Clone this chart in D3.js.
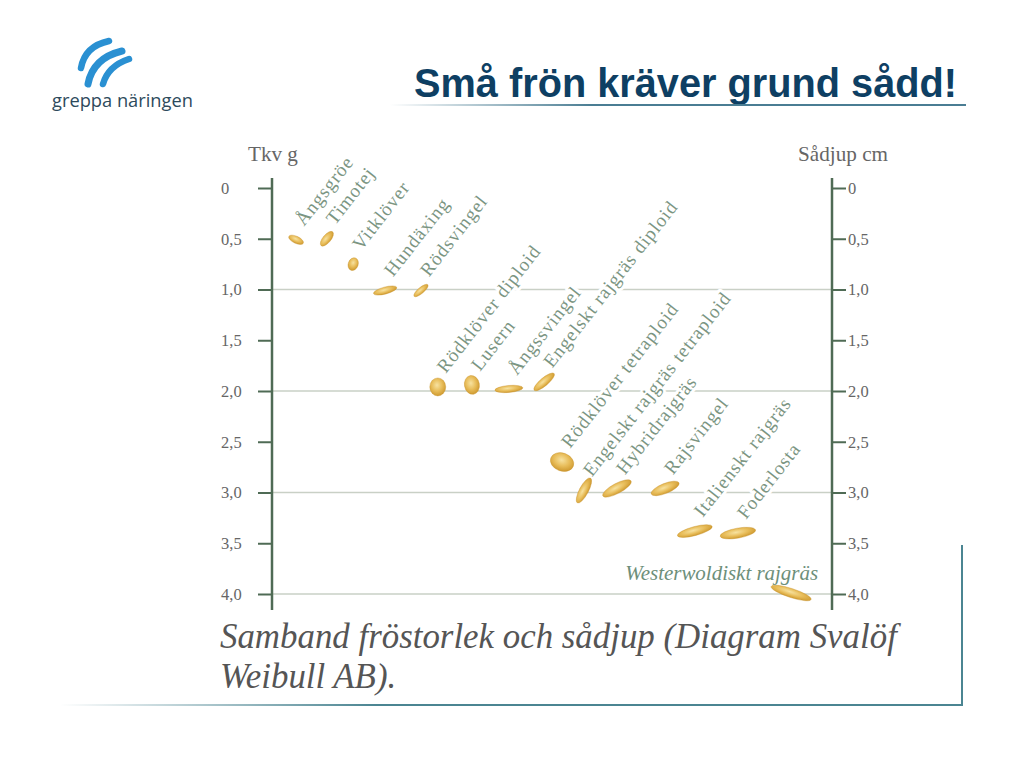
<!DOCTYPE html>
<html>
<head>
<meta charset="utf-8">
<script src="https://cdn.jsdelivr.net/npm/d3@7"></script>
<style>
  body { margin: 0; background: #fff; }
</style>
</head>
<body>
<script>
// Seed data: name, thousand-kernel weight (Tkv g) / sowing depth (cm), column along the chart
const seedNames = ["Ångsgröe", "Timotej", "Vitklöver", "Hundäxing", "Rödsvingel",
  "Rödklöver diploid", "Lusern", "Ångssvingel", "Engelskt rajgräs diploid",
  "Rödklöver tetraploid", "Engelskt rajgräs tetraploid", "Hybridrajgräs", "Rajsvingel",
  "Italienskt rajgräs", "Foderlosta", "Westerwoldiskt rajgräs"];
const seedValue = [0.51, 0.5, 0.75, 1.01, 1.01, 1.96, 1.94, 1.98, 1.91, 2.7, 2.98, 2.96, 2.96, 3.38, 3.4, 3.99];
const seedColumn = [4.3, 9.8, 14.5, 20.2, 26.6, 29.6, 35.7, 42.3, 48.6, 51.8, 55.7, 61.6, 70.2, 75.5, 83.2, 92.7];

const tickValues = [0, 0.5, 1, 1.5, 2, 2.5, 3, 3.5, 4];
const gridValues = [1, 2, 3, 4];

// seed shape look: [rx, ry, rotation]
const seedLook = {
  "Ångsgröe": [8, 3.5, 25], "Timotej": [9, 4, -50], "Vitklöver": [5, 6.5, 20],
  "Hundäxing": [12, 3.5, -15], "Rödsvingel": [9, 3, -40], "Rödklöver diploid": [8, 9, 0],
  "Lusern": [7.5, 9.5, -10], "Ångssvingel": [14, 3.5, -5], "Engelskt rajgräs diploid": [13, 4, -40],
  "Rödklöver tetraploid": [12, 9, 20], "Engelskt rajgräs tetraploid": [14, 4.5, -62],
  "Hybridrajgräs": [16, 5, -28], "Rajsvingel": [15, 5, -22], "Italienskt rajgräs": [18, 4.5, -15],
  "Foderlosta": [18, 5, -10], "Westerwoldiskt rajgräs": [21, 4.5, 18]
};

const seeds = seedNames.map((n, i) => ({ name: n, value: seedValue[i], col: seedColumn[i] }));

const width = 1024, height = 768;
const svg = d3.select('body').append('svg')
  .attr('width', width)
  .attr('height', height);

const defs = svg.append('defs');
const seedGrad = defs.append('radialGradient').attr('id', 'seedGrad')
  .attr('cx', '45%').attr('cy', '40%').attr('r', '60%');
seedGrad.append('stop').attr('offset', '0%').attr('stop-color', '#f7e2a0');
seedGrad.append('stop').attr('offset', '55%').attr('stop-color', '#e8bd5a');
seedGrad.append('stop').attr('offset', '100%').attr('stop-color', '#cf9a30');

function fadeGrad(id, color) {
  const g = defs.append('linearGradient').attr('id', id).attr('x1', '0%').attr('x2', '100%');
  g.append('stop').attr('offset', '0%').attr('stop-color', color).attr('stop-opacity', 0);
  g.append('stop').attr('offset', '35%').attr('stop-color', color).attr('stop-opacity', 1);
  g.append('stop').attr('offset', '100%').attr('stop-color', color).attr('stop-opacity', 1);
}
fadeGrad('fadeTitle', '#4a7d93');
fadeGrad('fadeFrame', '#4b8592');

const zeroGrad = defs.append('linearGradient').attr('id', 'zeroGrad').attr('x1', '0%').attr('x2', '100%');
zeroGrad.append('stop').attr('offset', '0%').attr('stop-color', '#4f7b50');
zeroGrad.append('stop').attr('offset', '70%').attr('stop-color', '#4f7d58');
zeroGrad.append('stop').attr('offset', '100%').attr('stop-color', '#4a8a8e');

// Scales
const x = d3.scaleLinear().domain([0, 100]).range([272, 832]);
const y = d3.scaleLinear().domain([0, 4]).range([188, 594]);

const fmt = d => d === 0 ? '0' : d3.format('.1f')(d).replace('.', ',');
const serif = '"Liberation Serif", "Times New Roman", serif';

// fit text to a width
function fit(sel, target) {
  const len = sel.node().getComputedTextLength();
  const fs = parseFloat(sel.attr('font-size'));
  sel.attr('font-size', fs * target / len);
}

// Logo
const logo = svg.append('g');
[["M 81 68 Q 85 46 109 41", 6.5], ["M 88 84 Q 93 58 122 51", 7], ["M 103 84 Q 108 66 129 59", 6.5]]
  .forEach(p => logo.append('path').attr('d', p[0]).attr('fill', 'none')
    .attr('stroke', '#2a90d2').attr('stroke-width', p[1]).attr('stroke-linecap', 'round'));
const logoText = logo.append('text')
  .attr('x', 52).attr('y', 107)
  .attr('font-family', '"Open Sans", "Noto Sans", sans-serif')
  .attr('font-size', 17).attr('fill', '#2d4a5c')
  .text('greppa näringen');
fit(logoText, 141);

// Title
const title = svg.append('text')
  .attr('x', 957).attr('y', 97)
  .attr('text-anchor', 'end')
  .attr('font-family', '"Liberation Sans", Arial, sans-serif')
  .attr('font-weight', 'bold')
  .attr('font-size', 36).attr('fill', '#0e3f63')
  .text('Små frön kräver grund sådd!');
fit(title, 543);
svg.append('rect').attr('x', 390).attr('y', 104).attr('width', 576).attr('height', 2)
  .attr('fill', 'url(#fadeTitle)');

// Gridlines
svg.append('g').selectAll('line')
  .data(gridValues)
  .enter()
  .append('line')
  .attr('x1', x(0)).attr('x2', x(100))
  .attr('y1', d => y(d)).attr('y2', d => y(d))
  .attr('stroke', '#c9d0c6').attr('stroke-width', 1.6);

// Zero line
svg.append('line')
  .attr('x1', x(0) - 14).attr('x2', x(100) + 14)
  .attr('y1', y(0)).attr('y2', y(0))
  .attr('stroke', 'url(#zeroGrad)').attr('stroke-width', 2.2);

// Labels (drawn with white halo so lines break round them)
const labels = svg.append('g')
  .attr('font-family', serif)
  .attr('fill', '#7b9582')
  .attr('stroke', '#fff').attr('stroke-width', 6)
  .attr('paint-order', 'stroke')
  .attr('stroke-linejoin', 'round');

labels.selectAll('text.lbl')
  .data(seeds.filter(d => d.name !== 'Westerwoldiskt rajgräs'))
  .enter()
  .append('text')
  .attr('class', 'lbl')
  .attr('font-size', 19)
  .attr('letter-spacing', 1)
  .attr('transform', d => `translate(${x(d.col) + 8},${y(d.value) - 13}) rotate(-52)`)
  .text(d => d.name);

const west = seeds.find(d => d.name === 'Westerwoldiskt rajgräs');
const westLbl = labels.append('text')
  .attr('x', x(west.col) + 27).attr('y', y(west.value) - 13)
  .attr('text-anchor', 'end')
  .attr('font-style', 'italic')
  .attr('font-size', 17)
  .attr('fill', '#6d8f7a')
  .text(west.name);
fit(westLbl, 193);

// Seeds
svg.append('g').selectAll('ellipse')
  .data(seeds)
  .enter()
  .append('ellipse')
  .attr('transform', d => `translate(${x(d.col)},${y(d.value)}) rotate(${seedLook[d.name][2]})`)
  .attr('rx', d => seedLook[d.name][0])
  .attr('ry', d => seedLook[d.name][1])
  .attr('fill', 'url(#seedGrad)')
  .attr('stroke', '#c8922a').attr('stroke-width', 0.6).attr('stroke-opacity', 0.6);

// Axes
const axisColor = '#4f6b55';
const tickText = '#666';

const yAxisL = svg.append('g')
  .attr('transform', `translate(${x(0)},0)`)
  .call(d3.axisLeft(y).tickValues(tickValues).tickSize(14).tickFormat(fmt));
yAxisL.select('.domain').remove();
yAxisL.selectAll('.tick line').attr('stroke', axisColor).attr('stroke-width', 2);
yAxisL.selectAll('.tick text')
  .attr('text-anchor', 'start').attr('x', -51)
  .attr('font-family', serif).attr('font-size', 16.5).attr('fill', tickText);

const yAxisR = svg.append('g')
  .attr('transform', `translate(${x(100)},0)`)
  .call(d3.axisRight(y).tickValues(tickValues).tickSize(14).tickPadding(2).tickFormat(fmt));
yAxisR.select('.domain').remove();
yAxisR.selectAll('.tick line').attr('stroke', axisColor).attr('stroke-width', 2);
yAxisR.selectAll('.tick text')
  .attr('font-family', serif).attr('font-size', 16.5).attr('fill', tickText);

[x(0), x(100)].forEach(xx => svg.append('line')
  .attr('x1', xx).attr('x2', xx)
  .attr('y1', y(0) - 10).attr('y2', y(4) + 16)
  .attr('stroke', axisColor).attr('stroke-width', 2.5));

// Axis titles
const tl = svg.append('text')
  .attr('x', x(0) - 24).attr('y', 161)
  .attr('font-family', serif).attr('font-size', 18).attr('fill', tickText)
  .text('Tkv g');
fit(tl, 50);
const tr = svg.append('text')
  .attr('x', 888).attr('y', 161)
  .attr('text-anchor', 'end')
  .attr('font-family', serif).attr('font-size', 18).attr('fill', tickText)
  .text('Sådjup cm');
fit(tr, 90);

// Caption
const cap1 = svg.append('text')
  .attr('x', 220).attr('y', 648)
  .attr('font-family', serif).attr('font-style', 'italic')
  .attr('font-size', 32).attr('fill', '#555')
  .text('Samband fröstorlek och sådjup (Diagram Svalöf');
fit(cap1, 677);
svg.append('text')
  .attr('x', 220).attr('y', 688)
  .attr('font-family', serif).attr('font-style', 'italic')
  .attr('font-size', cap1.attr('font-size')).attr('fill', '#555')
  .text('Weibull AB).');

// Frame
svg.append('rect').attr('x', 60).attr('y', 704).attr('width', 903).attr('height', 2)
  .attr('fill', 'url(#fadeFrame)');
svg.append('line')
  .attr('x1', 962).attr('x2', 962).attr('y1', 545).attr('y2', 706)
  .attr('stroke', '#4b8592').attr('stroke-width', 2);
</script>
</body>
</html>
